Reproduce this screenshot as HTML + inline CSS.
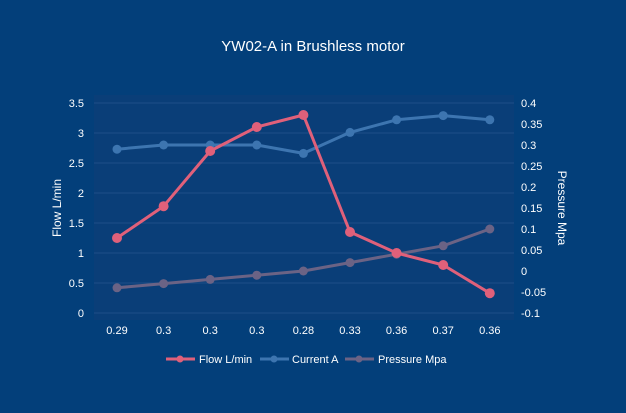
<!DOCTYPE html>
<html><head><meta charset="utf-8"><style>
body{margin:0;background:#033f7a;}
svg{display:block;font-family:"Liberation Sans",sans-serif;}
</style></head><body>
<svg id="c" width="626" height="413">
<rect width="626" height="413" fill="#033f7a"/>
<rect x="94" y="95" width="420" height="225" fill="#0a3e78"/>
<text x="313" y="51" fill="#fff" font-size="15" text-anchor="middle">YW02-A in Brushless motor</text>
<text transform="translate(61,208) rotate(-90)" fill="#fff" font-size="12" text-anchor="middle">Flow  L/min</text>
<text transform="translate(558,208) rotate(90)" fill="#fff" font-size="12" text-anchor="middle">Pressure  Mpa</text>
<g id="grid"></g><g id="marks"></g>
<g>
<g><line x1="166" y1="359" x2="195" y2="359" stroke="#e0607a" stroke-width="3"/><circle cx="180" cy="359" r="3.5" fill="#e0607a"/><text x="199" y="363" fill="#fff" font-size="11">Flow L/min</text></g>
<g><line x1="260" y1="359" x2="289" y2="359" stroke="#3d75b0" stroke-width="3"/><circle cx="274" cy="359" r="3.5" fill="#3d75b0"/><text x="292" y="363" fill="#fff" font-size="11">Current A</text></g>
<g><line x1="345" y1="359" x2="374" y2="359" stroke="#6b6385" stroke-width="3"/><circle cx="359" cy="359" r="3.5" fill="#6b6385"/><text x="378" y="363" fill="#fff" font-size="11">Pressure Mpa</text></g>
</g>
</svg>
<script>
const categories=["0.29","0.3","0.3","0.3","0.28","0.33","0.36","0.37","0.36"];
const flow=[1.25,1.78,2.7,3.1,3.3,1.35,1.0,0.8,0.33];
const current=[0.29,0.30,0.30,0.30,0.28,0.33,0.36,0.37,0.36];
const pressure=[-0.04,-0.03,-0.02,-0.01,0,0.02,0.04,0.06,0.1];
const leftTicks=["0","0.5","1","1.5","2","2.5","3","3.5"];
const rightTicks=["-0.1","-0.05","0","0.05","0.1","0.15","0.2","0.25","0.3","0.35","0.4"];
const NS="http://www.w3.org/2000/svg";
const x=i=>117+i*46.6;
const yL=v=>313-v/3.5*210;
const yR=v=>313-(v+0.1)/0.5*210;
const grid=document.getElementById('grid'),marks=document.getElementById('marks');
function mk(tag,attrs,parent){const e=document.createElementNS(NS,tag);for(const k in attrs)e.setAttribute(k,attrs[k]);parent.appendChild(e);return e;}
leftTicks.forEach(t=>{const y=yL(+t);
const l=mk('line',{x1:94,x2:514,y1:y,y2:y,stroke:'#1f4f87','stroke-width':1},grid);


const tx=mk('text',{x:84,y:y+4,fill:'#fff','font-size':11,'text-anchor':'end'},grid);tx.textContent=t;

});
rightTicks.forEach(t=>{const tx=mk('text',{x:521,y:yR(+t)+4,fill:'#fff','font-size':11},grid);tx.textContent=t;

});
categories.forEach((c,i)=>{const tx=mk('text',{x:x(i),y:334,fill:'#fff','font-size':11,'text-anchor':'middle'},grid);tx.textContent=c;

});
function series(vals,fy,col,name,r){
const p=mk('polyline',{points:vals.map((v,i)=>x(i)+','+fy(v)).join(' '),fill:'none',stroke:col,'stroke-width':3,'stroke-linejoin':'round'},marks);


vals.forEach((v,i)=>{const c=mk('circle',{cx:x(i),cy:fy(v),r:r,fill:col},marks);

});}
series(current,yR,'#3d75b0','current',4.5);
series(pressure,yR,'#6b6385','pressure',4.5);
series(flow,yL,'#e0607a','flow',5);
</script>
</body></html>
